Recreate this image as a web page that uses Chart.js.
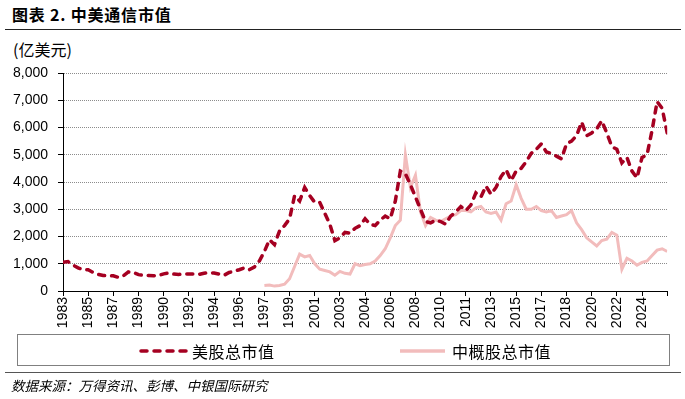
<!DOCTYPE html>
<html lang="zh-CN">
<head>
    <meta charset="UTF-8">
    <title>中美通信市值</title>
    <script src="https://cdn.jsdelivr.net/npm/chart.js"></script>
    <style>
        body {
            margin: 0;
            width: 685px;
            height: 399px;
            background: #fff;
            position: relative;
            overflow: hidden;
            font-family: "Noto Sans CJK SC", sans-serif;
        }
        .abs { position: absolute; }
        .chart-title {
            left: 12px; top: 6px;
            font-size: 16px; font-weight: bold; line-height: 16px;
            letter-spacing: 0.8px; color: #000;
        }
        .rule { left: 5px; width: 676px; height: 0; }
        .unit {
            left: 13px; top: 41px;
            font-size: 16px; line-height: 16px; color: #000;
        }
        .legend-box {
            left: 17px; top: 334px; width: 651px; height: 30px;
            border: 1.5px solid #808080;
        }
        .legend-item {
            top: 343px; font-size: 16px; line-height: 16px; color: #000;
            letter-spacing: 0.5px;
        }
        .source {
            left: 11px; top: 378px;
            font-size: 13.5px; line-height: 14px; font-style: italic; color: #000;
        }
    </style>
</head>
<body>
    <div class="abs chart-title">图表 2. 中美通信市值</div>
    <div class="abs rule" style="top:29px; border-top:1.5px solid #222;"></div>
    <div class="abs unit">(亿美元)</div>
    <canvas id="chart" class="abs" style="left:0; top:0;" width="685" height="335"></canvas>

    <div class="abs legend-box"></div>
    <svg class="abs" style="left:138px; top:347px;" width="52" height="8">
        <line x1="3" y1="4" x2="49" y2="4" stroke="#A50021" stroke-width="3.5"
              stroke-dasharray="6 7" stroke-linecap="round"/>
    </svg>
    <div class="abs legend-item" style="left:192px;">美股总市值</div>
    <svg class="abs" style="left:398px; top:347px;" width="50" height="8">
        <line x1="2" y1="4" x2="47" y2="4" stroke="#F2BCBC" stroke-width="3.5"/>
    </svg>
    <div class="abs legend-item" style="left:452px;">中概股总市值</div>

    <div class="abs rule" style="top:372px; border-top:1.5px solid #555;"></div>
    <div class="abs source">数据来源：万得资讯、彭博、中银国际研究</div>

    <script>
        // x 轴：每个标签之间 5 个数据点
        const pointsPerLabel = 5;
        const yearLabels = ['1983', '1985', '1987', '1989', '1990', '1992', '1994', '1996',
            '1997', '1999', '2001', '2003', '2004', '2006', '2008', '2010',
            '2011', '2013', '2015', '2017', '2018', '2020', '2022', '2024'];

        // 美股总市值 (亿美元)
        const usValues = [
            1050, 1080, 950, 850, 780, 780, 680, 610, 570, 550,
            560, 500, 560, 700, 680, 600, 580, 570, 560, 570,
            630, 660, 620, 610, 620, 620, 620, 610, 650, 670,
            660, 620, 580, 680, 730, 780, 850, 780, 880, 1100,
            1450, 1880, 1700, 2200, 2400, 2650, 3500, 3300, 3800, 3500,
            3250, 3250, 2850, 2450, 1850, 1950, 2150, 2120, 2300, 2400,
            2650, 2450, 2400, 2600, 2750, 2650, 3300, 4400, 4300, 3900,
            3450, 3000, 2550, 2500, 2600, 2550, 2450, 2750, 2900, 3100,
            2950, 3150, 3600, 3450, 3850, 3550, 3800, 4200, 4450, 4050,
            4400, 4500, 4750, 5050, 5200, 5400, 5100, 5050, 4950, 4850,
            5400, 5500, 5700, 6200, 5700, 5800, 5950, 6250, 5800, 5300,
            5200, 4700, 4900, 4400, 4150, 4900, 5000, 5900, 6950, 6700,
            5800
        ];

        // 中概股总市值 (亿美元)，1997 年以前无数据
        const cnValues = [
            null, null, null, null, null, null, null, null, null, null,
            null, null, null, null, null, null, null, null, null, null,
            null, null, null, null, null, null, null, null, null, null,
            null, null, null, null, null, null, null, null, null, null,
            200, 220, 180, 200, 250, 450, 900, 1350, 1250, 1300,
            1000, 800, 750, 700, 580, 720, 650, 620, 1000, 930,
            970, 1000, 1100, 1300, 1550, 1950, 2400, 2600, 5000, 3800,
            4250, 2900, 2400, 2700, 2600, 2550, 2650, 2750, 2800, 2950,
            2950, 2900, 3050, 3100, 2900, 2850, 2900, 2600, 3200, 3300,
            3900, 3400, 3000, 3000, 3100, 2950, 2900, 2950, 2700, 2750,
            2800, 2950, 2500, 2250, 1950, 1800, 1650, 1850, 1900, 2150,
            2050, 800, 1200, 1100, 950, 1050, 1100, 1300, 1500, 1550,
            1450
        ];

        const yMin = 0, yMax = 8000, yStep = 1000;

        const toPoints = arr => arr.map((v, i) => ({ x: i, y: v }));
        const tickFont = { family: '"Liberation Sans", Arial, sans-serif', size: 14 };

        new Chart(document.getElementById('chart'), {
            type: 'line',
            data: {
                datasets: [{
                    label: '美股总市值',
                    data: toPoints(usValues),
                    borderColor: '#A50021',
                    borderWidth: 3.5,
                    borderDash: [6, 7],
                    borderCapStyle: 'round',
                    pointRadius: 0,
                    tension: 0,
                    order: 1
                }, {
                    label: '中概股总市值',
                    data: toPoints(cnValues),
                    borderColor: '#F2BCBC',
                    borderWidth: 3,
                    pointRadius: 0,
                    tension: 0,
                    spanGaps: false,
                    order: 2
                }]
            },
            options: {
                responsive: false,
                animation: false,
                events: [],
                layout: { padding: { top: 73, right: 12, left: 0, bottom: 0 } },
                plugins: {
                    legend: { display: false },
                    tooltip: { enabled: false }
                },
                scales: {
                    x: {
                        type: 'linear',
                        min: 0,
                        max: yearLabels.length * pointsPerLabel,
                        afterFit: s => { s.height = 44; },
                        grid: {
                            drawOnChartArea: false,
                            tickLength: 5,
                            tickColor: '#000'
                        },
                        border: { color: '#000', width: 1 },
                        ticks: {
                            stepSize: pointsPerLabel,
                            autoSkip: false,
                            maxRotation: 90,
                            minRotation: 90,
                            padding: 1,
                            color: '#000',
                            font: tickFont,
                            callback: v => yearLabels[v / pointsPerLabel] || ''
                        }
                    },
                    y: {
                        min: yMin,
                        max: yMax,
                        afterFit: s => { s.width = 63; },
                        grid: {
                            color: '#8c8c8c',
                            tickLength: 5,
                            tickColor: '#000',
                            tickBorderDash: []
                        },
                        border: { color: '#000', width: 1, dash: [1, 1] },
                        ticks: {
                            stepSize: yStep,
                            padding: 10,
                            color: '#000',
                            font: tickFont,
                            callback: v => v.toLocaleString('en-US')
                        }
                    }
                }
            }
        });
    </script>
</body>
</html>
